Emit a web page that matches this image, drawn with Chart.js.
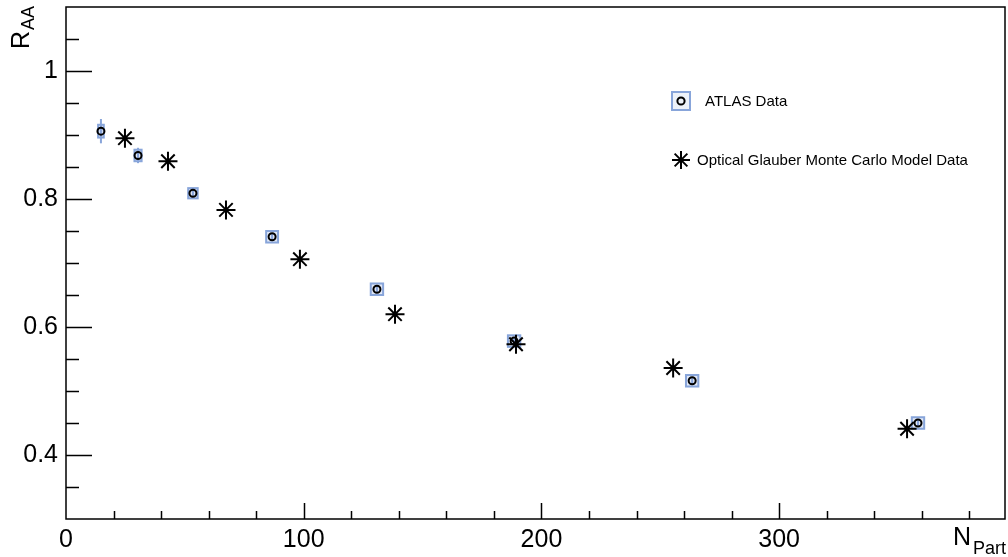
<!DOCTYPE html>
<html>
<head>
<meta charset="utf-8">
<script src="https://cdn.jsdelivr.net/npm/chart.js@4.4.1/dist/chart.umd.min.js"></script>
<style>
  html, body { margin: 0; padding: 0; background: #fff; }
  #wrap { width: 1008px; height: 557px; position: relative; }
</style>
</head>
<body>
<div id="wrap"><canvas id="c"></canvas></div>
<script>
// ---- data ----
const atlasNpart = [14.7, 30.3, 53.4, 86.7, 130.8, 188.5, 263.4, 358.4];
const atlasRaa   = [0.906, 0.868, 0.809, 0.741, 0.659, 0.578, 0.516, 0.450];
const atlasStat  = [0.019, 0.012, 0.006, 0.006, 0.006, 0.006, 0.006, 0.006];
const atlasSysX  = [1.2, 1.5, 2.0, 2.5, 2.6, 2.6, 2.6, 2.6];
const atlasSysY  = [0.010, 0.009, 0.008, 0.009, 0.009, 0.009, 0.009, 0.009];

const glauberNpart = [24.8, 42.9, 67.3, 98.4, 138.4, 189.3, 255.4, 353.8];
const glauberRaa   = [0.895, 0.859, 0.783, 0.706, 0.620, 0.573, 0.536, 0.441];

const xTicks = [0, 100, 200, 300];
const yTicks = [0.4, 0.6, 0.8, 1];
const xRange = [0, 395];
const yRange = [0.3, 1.1];

const seriesNames = ['ATLAS Data', 'Optical Glauber Monte Carlo Model Data'];

const FONT = "'Liberation Sans', Arial, Helvetica, sans-serif";
const BOXC = '#88a5da';

const atlasPts = atlasNpart.map((x, i) => ({ x: x, y: atlasRaa[i] }));
const glauberPts = glauberNpart.map((x, i) => ({ x: x, y: glauberRaa[i] }));

const framePlugin = {
  id: 'frame',
  beforeDatasetsDraw(chart) {
    const ctx = chart.ctx, xs = chart.scales.x, ys = chart.scales.y;
    ctx.save();
    for (let i = 0; i < atlasNpart.length; i++) {
      const xl = xs.getPixelForValue(atlasNpart[i] - atlasSysX[i]);
      const xr = xs.getPixelForValue(atlasNpart[i] + atlasSysX[i]);
      const yt = ys.getPixelForValue(atlasRaa[i] + atlasSysY[i]);
      const yb = ys.getPixelForValue(atlasRaa[i] - atlasSysY[i]);
      const xc = xs.getPixelForValue(atlasNpart[i]);
      ctx.strokeStyle = BOXC;
      ctx.lineWidth = 2;
      ctx.beginPath();
      ctx.moveTo(xc, ys.getPixelForValue(atlasRaa[i] + atlasStat[i]));
      ctx.lineTo(xc, ys.getPixelForValue(atlasRaa[i] - atlasStat[i]));
      ctx.stroke();
      ctx.fillStyle = 'rgba(136,165,218,0.25)';
      ctx.fillRect(xl, yt, xr - xl, yb - yt);
      ctx.strokeRect(xl, yt, xr - xl, yb - yt);
    }
    ctx.restore();
  },
  afterDraw(chart) {
    const ctx = chart.ctx, a = chart.chartArea, xs = chart.scales.x, ys = chart.scales.y;
    ctx.save();
    ctx.strokeStyle = '#000';
    ctx.lineWidth = 1.5;
    ctx.strokeRect(a.left, a.top, a.right - a.left, a.bottom - a.top);
    ctx.beginPath();
    for (let v = yRange[0]; v <= yRange[1] + 1e-9; v += 0.05) {
      const vv = Math.round(v * 100) / 100;
      const major = yTicks.some(t => Math.abs(t - vv) < 1e-6);
      const py = Math.round(ys.getPixelForValue(vv)) + 0.5;
      if (py <= a.top + 1 || py >= a.bottom - 1) continue;
      ctx.moveTo(a.left, py);
      ctx.lineTo(a.left + (major ? 26 : 13), py);
    }
    for (let v = xRange[0]; v <= xRange[1]; v += 20) {
      const major = xTicks.includes(v);
      const px = Math.round(xs.getPixelForValue(v)) + 0.5;
      if (px <= a.left + 1 || px >= a.right - 1) continue;
      ctx.moveTo(px, a.bottom);
      ctx.lineTo(px, a.bottom - (major ? 16 : 8));
    }
    ctx.stroke();

    // axis titles
    ctx.fillStyle = '#000';
    ctx.textBaseline = 'alphabetic';
    ctx.font = '25px ' + FONT;
    ctx.textAlign = 'left';
    ctx.fillText('N', 953, 545);
    ctx.font = '18px ' + FONT;
    ctx.fillText('Part', 973, 554);
    ctx.save();
    ctx.translate(29, 49);
    ctx.rotate(-Math.PI / 2);
    ctx.font = '25px ' + FONT;
    ctx.textAlign = 'left';
    ctx.fillText('R', 0, 0);
    ctx.font = '18px ' + FONT;
    ctx.fillText('AA', 19, 5);
    ctx.restore();

    // legend
    const lx = 681, ly1 = 101, ly2 = 160;
    ctx.strokeStyle = BOXC;
    ctx.lineWidth = 2;
    ctx.fillStyle = 'rgba(136,165,218,0.15)';
    ctx.fillRect(lx - 9, ly1 - 9, 18, 18);
    ctx.strokeRect(lx - 9, ly1 - 9, 18, 18);
    ctx.strokeStyle = '#000';
    ctx.lineWidth = 2;
    ctx.beginPath();
    ctx.arc(lx, ly1, 3.6, 0, Math.PI * 2);
    ctx.stroke();
    ctx.beginPath();
    const r = 9;
    for (let k = 0; k < 4; k++) {
      const ang = k * Math.PI / 4;
      ctx.moveTo(lx - r * Math.cos(ang), ly2 - r * Math.sin(ang));
      ctx.lineTo(lx + r * Math.cos(ang), ly2 + r * Math.sin(ang));
    }
    ctx.stroke();
    ctx.fillStyle = '#000';
    ctx.font = '15px ' + FONT;
    ctx.textAlign = 'left';
    ctx.textBaseline = 'middle';
    ctx.fillText(seriesNames[0], 705, ly1 + 1);
    ctx.fillText(seriesNames[1], 697, ly2 + 1);
    ctx.restore();
  }
};

new Chart(document.getElementById('c'), {
  type: 'scatter',
  data: {
    datasets: [
      {
        label: seriesNames[0],
        data: atlasPts,
        order: 1,
        pointStyle: 'circle',
        pointRadius: 3.5,
        pointBorderWidth: 2,
        borderColor: '#000',
        backgroundColor: 'rgba(0,0,0,0)'
      },
      {
        label: seriesNames[1],
        data: glauberPts,
        order: 0,
        pointStyle: 'star',
        pointRadius: 9.5,
        pointBorderWidth: 2,
        borderColor: '#000',
        backgroundColor: '#000'
      }
    ]
  },
  options: {
    responsive: true,
    maintainAspectRatio: false,
    animation: false,
    devicePixelRatio: 1,
    layout: { autoPadding: false, padding: { top: 7, right: 3, left: 0, bottom: 0 } },
    plugins: { legend: { display: false }, tooltip: { enabled: false } },
    scales: {
      x: {
        type: 'linear',
        min: xRange[0], max: xRange[1],
        grid: { display: false, drawTicks: false },
        border: { display: false },
        afterBuildTicks: s => { s.ticks = xTicks.map(v => ({ value: v })); },
        afterFit: s => { s.height = 38; s.paddingLeft = 0; s.paddingRight = 0; },
        ticks: {
          padding: 6,
          maxRotation: 0,
          color: '#000',
          font: { family: FONT, size: 25 },
          callback: v => String(v)
        }
      },
      y: {
        type: 'linear',
        min: yRange[0], max: yRange[1],
        grid: { display: false, drawTicks: false },
        border: { display: false },
        afterBuildTicks: s => { s.ticks = yTicks.map(v => ({ value: v })); },
        afterFit: s => { s.width = 66; s.paddingTop = 0; s.paddingBottom = 0; },
        ticks: {
          padding: 8,
          color: '#000',
          font: { family: FONT, size: 25 },
          callback: v => String(v)
        }
      }
    }
  },
  plugins: [framePlugin]
});
</script>
</body>
</html>
